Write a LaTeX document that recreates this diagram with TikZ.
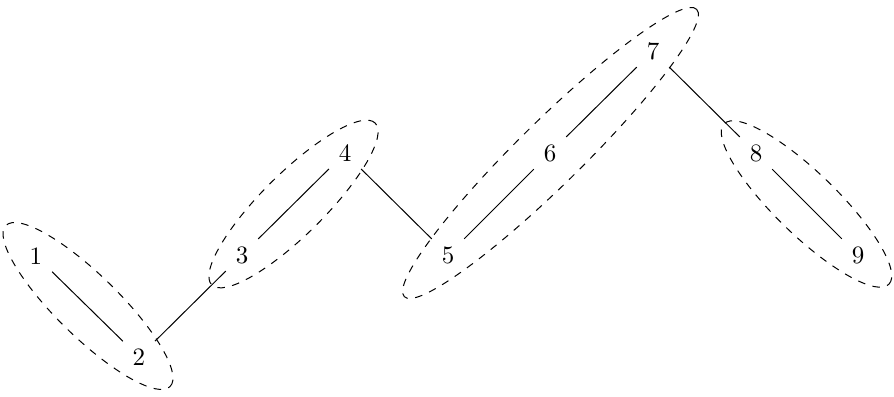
\documentclass[tikz,border=0pt]{standalone}
\usetikzlibrary{calc}
\begin{document}
\begin{tikzpicture}[x=0.4pt,y=0.4pt,
  vert/.style={circle,inner sep=0.3333em},
  grp/.style={draw,dashed}]
\useasboundingbox (0,0) rectangle (894,396);
\node[vert] (n1) at (36,140) {1};
\node[vert] (n2) at (139,39) {2};
\node[vert] (n3) at (242,141) {3};
\node[vert] (n4) at (345,243) {4};
\node[vert] (n5) at (448,141) {5};
\node[vert] (n6) at (550,243) {6};
\node[vert] (n7) at (653,345) {7};
\node[vert] (n8) at (756,243) {8};
\node[vert] (n9) at (858,141) {9};
\draw (n1) -- (n2);
\draw (n2) -- (n3);
\draw (n3) -- (n4);
\draw (n4) -- (n5);
\draw (n5) -- (n6);
\draw (n6) -- (n7);
\draw (n7) -- (n8);
\draw (n8) -- (n9);
\draw[grp, rotate around={-44.4:(88,90)}] (88,90) ellipse [x radius=115, y radius=31];
\draw[grp, rotate around={44.7:(293.5,192)}] (293.5,192) ellipse [x radius=115, y radius=31];
\draw[grp, rotate around={44.5:(550.5,243)}] (550.5,243) ellipse [x radius=205, y radius=32];
\draw[grp, rotate around={-44.2:(806.5,192)}] (806.5,192) ellipse [x radius=115, y radius=31];
\end{tikzpicture}
\end{document}
